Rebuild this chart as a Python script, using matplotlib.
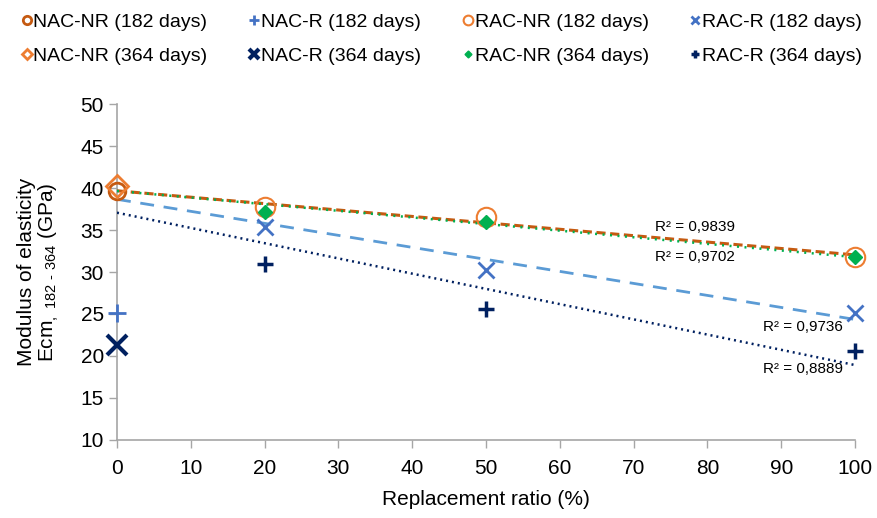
import numpy as np
import matplotlib.pyplot as plt

plt.rcParams['font.family'] = ['Liberation Sans', 'DejaVu Sans']
plt.rcParams['mathtext.fontset'] = 'custom'
plt.rcParams['mathtext.rm'] = 'Liberation Sans'

# values
nac_x = [0]
nac_nr_182 = [39.7]
nac_r_182 = [25.1]
nac_nr_364 = [40.2]
nac_r_364 = [21.3]

rac_x = [20, 50, 100]
rac_nr_182 = [37.7, 36.5, 31.8]
rac_r_182 = [35.3, 30.2, 25.1]
rac_nr_364 = [37.2, 36.0, 31.8]
rac_r_364 = [31.0, 25.6, 20.6]

r2_labels = ["R² = 0,9839", "R² = 0,9702", "R² = 0,9736", "R² = 0,8889"]

fig = plt.figure(figsize=(8.77, 5.18), dpi=100)
ax = fig.add_axes([0.1334, 0.1506, 0.8416, 0.6486])

# trend lines (linear fit including the 0% point)
fit_x = np.array(nac_x + rac_x)
xx = np.array([0, 100])
def trend(y0, ys):
    k, b = np.polyfit(fit_x, np.array(y0 + ys), 1)
    return k * xx + b

ax.plot(xx, trend(nac_nr_182, rac_r_182), color='#5B9BD5', lw=2,
        ls=(0, (5, 3.5)), zorder=2)
ax.plot(xx, trend(nac_nr_364, rac_r_364), color='#002060', lw=1.8,
        ls=(0, (0.8, 1.6)), zorder=2)
ax.plot(xx, trend(nac_nr_182, rac_nr_182), color='#C55A11', lw=2.2,
        ls=(0, (3, 1.5)), zorder=2)
ax.plot(xx, trend(nac_nr_364, rac_nr_364), color='#00B050', lw=1.8,
        ls=(0, (0.8, 2.2)), zorder=3)

h1, = ax.plot(nac_x, nac_nr_182, 'o', ms=12, mfc='none', mec='#C55A11', mew=2,
              ls='none', label='NAC-NR (182 days)', zorder=5)
h2, = ax.plot(nac_x, nac_r_182, '+', ms=13, mec='#4472C4', mew=2,
              ls='none', label='NAC-R (182 days)', zorder=5)
h3, = ax.plot(rac_x, rac_nr_182, 'o', ms=14, mfc='none', mec='#ED7D31', mew=1.5,
              ls='none', label='RAC-NR (182 days)', zorder=5)
h4, = ax.plot(rac_x, rac_r_182, 'x', ms=12, mec='#4472C4', mew=2,
              ls='none', label='RAC-R (182 days)', zorder=5)
h5, = ax.plot(nac_x, nac_nr_364, 'D', ms=11, mfc='none', mec='#ED7D31', mew=2,
              ls='none', label='NAC-NR (364 days)', zorder=5)
h6, = ax.plot(nac_x, nac_r_364, 'x', ms=14, mec='#002060', mew=3,
              ls='none', label='NAC-R (364 days)', zorder=5)
h7, = ax.plot(rac_x, rac_nr_364, 'D', ms=7, color='#00B050',
              ls='none', label='RAC-NR (364 days)', zorder=6)
h8, = ax.plot(rac_x, rac_r_364, '+', ms=12, mec='#002060', mew=2.5,
              ls='none', label='RAC-R (364 days)', zorder=5)
for h in [h1, h2, h3, h4, h5, h6, h7, h8]:
    h.set_clip_on(False)

ax.text(72.9, 35.3, r2_labels[0], fontsize=11, va='center')
ax.text(72.9, 31.8, r2_labels[1], fontsize=11, va='center')
ax.text(87.5, 23.4, r2_labels[2], fontsize=11, va='center')
ax.text(87.5, 18.5, r2_labels[3], fontsize=11, va='center')

ax.set_xlim(0, 100)
ax.set_ylim(10, 50)
ax.set_xticks(range(0, 101, 10))
ax.set_yticks(range(10, 51, 5))
ax.tick_params(labelsize=15, color='#A6A6A6', length=6, width=1)
ax.tick_params(axis='x', pad=8)
for s in ['top', 'right']:
    ax.spines[s].set_visible(False)
for s in ['left', 'bottom']:
    ax.spines[s].set_color('#A6A6A6')
    ax.spines[s].set_linewidth(1.2)
ax.spines['left'].set_zorder(1)

ax.set_xlabel('Replacement ratio (%)', fontsize=15, labelpad=8)
ax.set_ylabel('Modulus of elasticity\n'
              r'Ecm$_{\mathregular{,\ 182\ \text{-}\ 364}}$ (GPa)', fontsize=15,
              labelpad=14, linespacing=1.0)

fig.legend([h1, h5, h2, h6, h3, h7, h4, h8],
           [h.get_label() for h in [h1, h5, h2, h6, h3, h7, h4, h8]],
           ncol=4, loc='upper left', bbox_to_anchor=(0.006, 1.008),
           frameon=False, fontsize=14, markerscale=0.5, handlelength=0.4,
           handletextpad=0.15, columnspacing=2.2, labelspacing=0.85)

fig.savefig('out.png', dpi=100)
